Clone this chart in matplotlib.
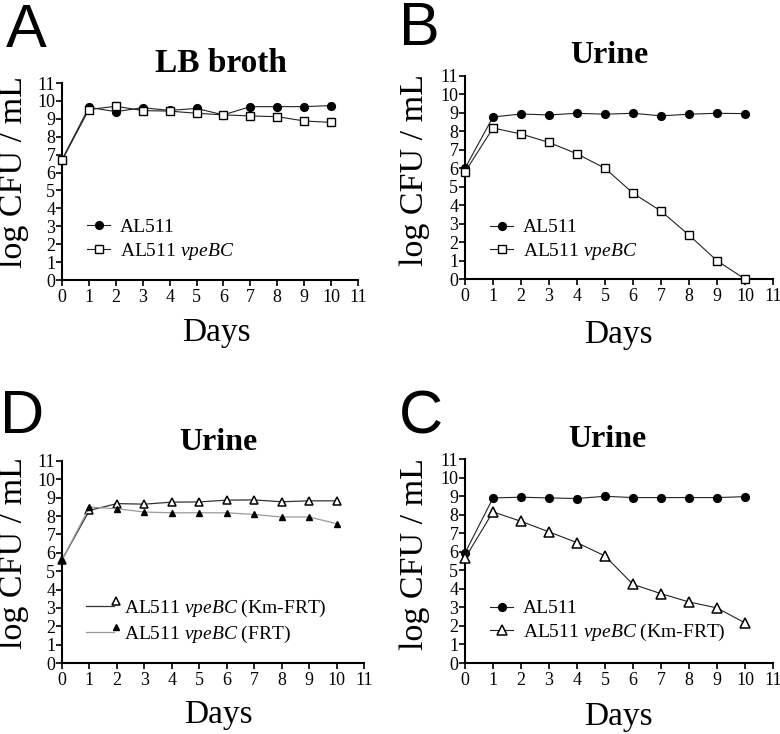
import matplotlib
matplotlib.use('Agg')
import matplotlib.pyplot as plt
from matplotlib.legend_handler import HandlerBase
from matplotlib.lines import Line2D

plt.rcParams['font.family'] = ['Liberation Serif', 'DejaVu Serif']
plt.rcParams['mathtext.fontset'] = 'custom'
plt.rcParams['mathtext.rm'] = 'Liberation Serif'
plt.rcParams['mathtext.it'] = 'Liberation Serif:italic'

# ---------------- data ----------------
days = list(range(11))
ticks = list(range(12))

a_wt = [6.72, 9.64, 9.40, 9.62, 9.47, 9.58, 9.22, 9.68, 9.68, 9.68, 9.74]
a_mut = [6.68, 9.52, 9.70, 9.46, 9.43, 9.31, 9.22, 9.16, 9.12, 8.88, 8.80]

b_wt = [6.00, 8.78, 8.94, 8.89, 8.98, 8.93, 8.98, 8.84, 8.93, 8.98, 8.96]
b_mut = [5.80, 8.18, 7.86, 7.40, 6.78, 6.00, 4.65, 3.68, 2.38, 0.99, 0.00]

d_km = [5.63, 8.31, 8.68, 8.65, 8.76, 8.77, 8.87, 8.88, 8.78, 8.83, 8.83]
d_frt = [5.60, 8.49, 8.40, 8.22, 8.18, 8.18, 8.18, 8.09, 7.95, 7.95, 7.59]

c_wt = [5.93, 8.90, 8.94, 8.90, 8.87, 8.99, 8.92, 8.92, 8.92, 8.92, 8.97]
c_km = [5.65, 8.15, 7.64, 7.07, 6.49, 5.77, 4.24, 3.74, 3.29, 2.97, 2.16]

lab_wt = 'AL511'
lab_mut = 'AL511 $vpeBC$'
lab_km = 'AL511 $vpeBC$ (Km-FRT)'
lab_frt = 'AL511 $vpeBC$ (FRT)'

# ---------------- layout helpers ----------------
W, H = 780, 734
fig = plt.figure(figsize=(W / 100, H / 100), dpi=100)


def fx(px):
    return px / W


def fy(py):
    return 1 - py / H


def make_axes(x0, x1, ytop, ybot):
    ax = fig.add_axes([fx(x0), fy(ybot), fx(x1 - x0), (ybot - ytop) / H])
    ax.set_xlim(0, 11)
    ax.set_ylim(0, 11)
    ax.set_xticks(ticks)
    ax.set_yticks(ticks)
    for s in ('top', 'right'):
        ax.spines[s].set_visible(False)
    for s in ('left', 'bottom'):
        ax.spines[s].set_linewidth(1.5)
    ax.tick_params(axis='both', direction='out', length=4.3, width=1.2,
                   labelsize=13)
    ax.tick_params(axis='y', pad=0.5)
    ax.tick_params(axis='x', pad=2.5)
    return ax


def decorate(ax, title, tsize, tx, tby, ylx, yly, xlx, xlby, letter, lx, lby):
    fig.text(fx(tx), fy(tby), title, fontsize=tsize, fontweight='bold',
             ha='center', va='baseline')
    ax.set_ylabel('log CFU / mL', fontsize=24.5, va='baseline')
    ax.yaxis.set_label_coords(fx(ylx), fy(yly), transform=fig.transFigure)
    ax.set_xlabel('Days', fontsize=24, va='baseline')
    ax.xaxis.set_label_coords(fx(xlx), fy(xlby), transform=fig.transFigure)
    fig.text(fx(lx), fy(lby), letter, fontsize=44, ha='center', va='baseline',
             family=['Liberation Sans', 'DejaVu Sans'])


class EndMarkerHandler(HandlerBase):
    def create_artists(self, legend, orig_handle, xdescent, ydescent,
                       width, height, fontsize, trans):
        y = height / 2 - ydescent
        line = Line2D([-xdescent, width - xdescent], [y, y],
                      color=orig_handle.get_color(),
                      lw=orig_handle.get_linewidth())
        mk = Line2D([width - xdescent + 1.5], [y + 0.32 * height],
                    marker=orig_handle.get_marker(),
                    ms=orig_handle.get_markersize() * 0.85,
                    mfc=orig_handle.get_markerfacecolor(),
                    mec=orig_handle.get_markeredgecolor(),
                    mew=orig_handle.get_markeredgewidth(),
                    linestyle='none')
        line.set_transform(trans)
        mk.set_transform(trans)
        return [line, mk]


def add_legend(ax, x_px, yc_px, handler=None, hl=1.2):
    kw = dict(loc='center left', bbox_to_anchor=(fx(x_px), fy(yc_px)),
              bbox_transform=fig.transFigure, frameon=False, fontsize=14,
              numpoints=1, handlelength=hl, handletextpad=0.5,
              labelspacing=0.25, borderpad=0, borderaxespad=0)
    if handler is not None:
        hs, ls = ax.get_legend_handles_labels()
        kw['handler_map'] = {h: handler for h in hs}
    ax.legend(**kw)


circ = dict(marker='o', ms=5.6, mfc='black', mec='black', lw=0.8,
            color='#222222', clip_on=False, zorder=3)
sq = dict(marker='s', ms=6.3, mfc='white', mec='black', mew=1.0, lw=0.8,
          color='#222222', clip_on=False, zorder=3)
tri_open = dict(marker='^', ms=6.6, mfc='white', mec='black', mew=1.1,
                lw=0.8, color='#222222', clip_on=False, zorder=3)

# ---------------- Panel A ----------------
axA = make_axes(62, 358, 83, 280)
axA.plot(days, a_wt, label=lab_wt, **circ)
axA.plot(days, a_mut, label=lab_mut, **sq)
decorate(axA, 'LB broth', 24, 221, 72, 22, 172, 216, 341, 'A', 26, 47)
add_legend(axA, 87, 240)

# ---------------- Panel B ----------------
axB = make_axes(465, 773, 76, 279)
axB.plot(days, b_wt, label=lab_wt, **circ)
axB.plot(days, b_mut, label=lab_mut, **sq)
decorate(axB, 'Urine', 23, 609, 63, 423, 170, 618, 343, 'B', 419, 45)
add_legend(axB, 490, 240.5)

# ---------------- Panel D ----------------
axD = make_axes(62, 364, 461, 663)
axD.plot(days, d_km, label=lab_km, marker='^', ms=6.0, mfc='white',
         mec='black', mew=1.1, lw=0.9, color='#333333', clip_on=False,
         zorder=3)
axD.plot(days, d_frt, label=lab_frt, marker='^', ms=5.0, mfc='black',
         mec='black', lw=0.9, color='#9a9a9a', clip_on=False, zorder=3)
decorate(axD, 'Urine', 23, 218, 450, 22, 553, 218, 723, 'D', 22, 433)
add_legend(axD, 86, 621, handler=EndMarkerHandler(), hl=1.45)

# ---------------- Panel C ----------------
axC = make_axes(465, 773, 459, 663)
axC.plot(days, c_wt, label=lab_wt, **circ)
axC.plot(days, c_km, label=lab_km, **tri_open)
decorate(axC, 'Urine', 23, 607, 447, 423, 554, 618, 725, 'C', 421, 433)
add_legend(axC, 490, 621.5)

fig.savefig('out.png', dpi=100)
